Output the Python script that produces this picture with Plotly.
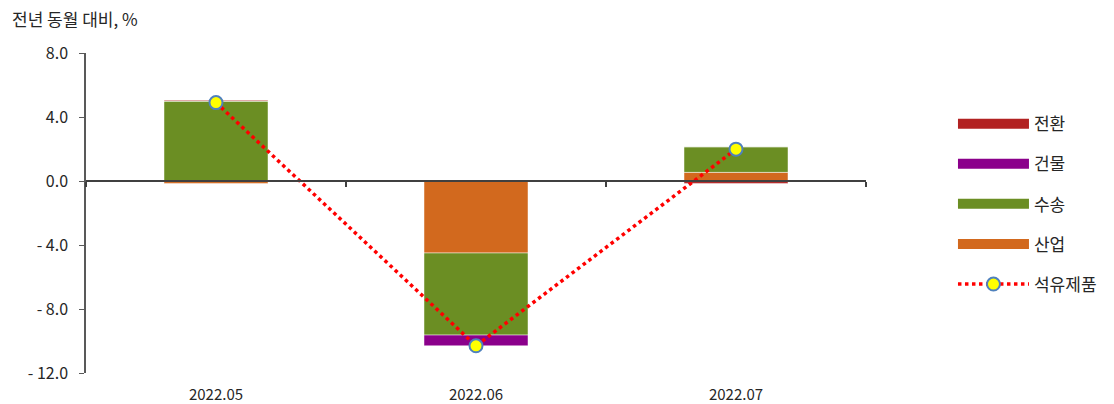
import plotly.graph_objects as go

# 전년 동월 대비 증감률 기여도 (%p)
months = ["2022.05", "2022.06", "2022.07"]
industry = [-0.15, -4.50, 0.54]      # 산업
transport = [5.00, -5.13, 1.60]      # 수송
building = [0.00, -0.67, 0.00]       # 건물
conversion = [0.05, 0.00, -0.15]     # 전환
petroleum = [4.90, -10.30, 1.99]     # 석유제품 합계

y_ticks = [8, 4, 0, -4, -8, -12]
y_tick_text = ["8.0", "4.0", "0.0", "- 4.0", "- 8.0", "- 12.0"]

FONT = "Noto Sans CJK KR, Noto Sans, sans-serif"
colors = {
    "전환": "#B22222",
    "건물": "#8B008B",
    "수송": "#6B8E23",
    "산업": "#D2691E",
}

fig = go.Figure()

# stacked contribution bars (drawn bottom-up from zero)
for name, vals in [("산업", industry), ("수송", transport),
                   ("건물", building), ("전환", conversion)]:
    fig.add_trace(go.Bar(
        x=months, y=vals, name=name, width=0.4,
        marker=dict(color=colors[name],
                    line=dict(color="rgba(255,255,255,0.6)", width=0.8)),
        showlegend=False,
    ))

# legend swatches as thick lines
for i, name in enumerate(["전환", "건물", "수송", "산업"]):
    fig.add_trace(go.Scatter(
        x=[None], y=[None], mode="lines", name=name,
        line=dict(color=colors[name], width=12),
        legendgroup=name, legendrank=i + 1,
    ))

# total line
fig.add_trace(go.Scatter(
    x=months, y=petroleum, name="석유제품", mode="lines+markers",
    xaxis="x2",
    line=dict(color="#FF0000", width=3.5, dash="dot"),
    marker=dict(color="#FFFF00", size=13,
                line=dict(color="#4F81BD", width=2)),
    legendgroup="석유제품", legendrank=5,
))

fig.update_layout(
    width=1114, height=404,
    margin=dict(l=86, r=248, t=53, b=31),
    paper_bgcolor="white", plot_bgcolor="white",
    barmode="relative",
    font=dict(family=FONT, size=16, color="#262626"),
    xaxis=dict(
        type="category", showline=False, showgrid=False, zeroline=False,
        ticks="outside", ticklen=8, tickcolor="rgba(0,0,0,0)",
        tickfont=dict(size=15), automargin=False,
    ),
    xaxis2=dict(
        type="category", overlaying="x", matches="x", anchor="free",
        position=0.6, showline=True, linecolor="#404040", linewidth=1.5,
        ticks="outside", tickson="boundaries", ticklen=5,
        tickcolor="#404040", tickwidth=1.5,
        showticklabels=False, showgrid=False, zeroline=False,
    ),
    yaxis=dict(
        range=[-12, 8], tickvals=y_ticks, ticktext=y_tick_text,
        showline=True, linecolor="#595959", linewidth=1.5,
        ticks="outside", ticklen=5, tickcolor="#595959",
        showgrid=False, zeroline=False, ticklabelstandoff=8,
        tickfont=dict(size=16), automargin=False,
    ),
    legend=dict(
        x=1.1115, xanchor="left", y=0.834, yanchor="top",
        font=dict(size=17, color="#262626"),
        itemwidth=71, tracegroupgap=15,
        bgcolor="rgba(0,0,0,0)",
    ),
    annotations=[dict(
        text="전년 동월 대비, %", xref="paper", yref="paper",
        x=-76 / 780, y=1 + 35 / 320, xanchor="left", yanchor="middle",
        showarrow=False, font=dict(size=17, color="#262626"),
    )],
)

fig.write_html("out.html")
